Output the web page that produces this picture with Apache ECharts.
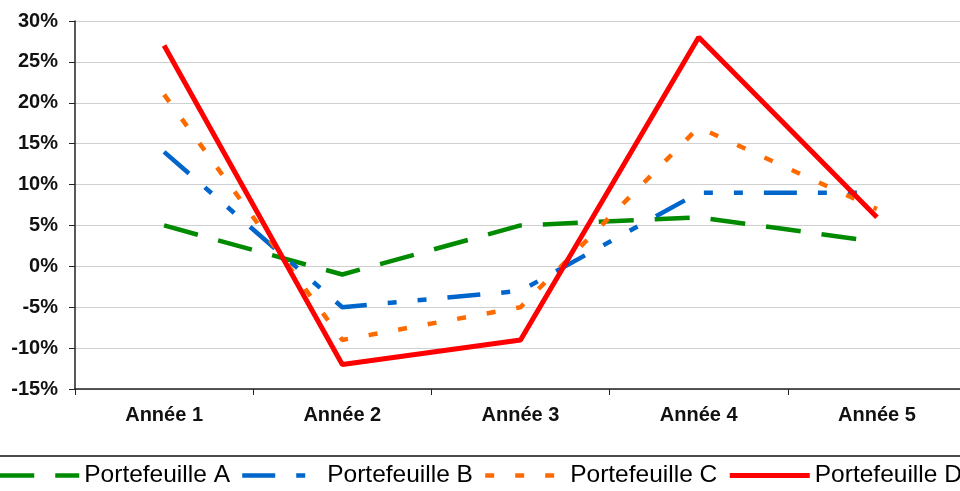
<!DOCTYPE html>
<html>
<head>
<meta charset="utf-8">
<script src="https://cdn.jsdelivr.net/npm/echarts@6/dist/echarts.min.js"></script>
<style>
  html, body { margin: 0; padding: 0; background: #fff; }
  #chart { width: 960px; height: 491px; }
</style>
</head>
<body>
<div id="chart"></div>
<script>
// années
const categories = ['Année 1', 'Année 2', 'Année 3', 'Année 4', 'Année 5'];

// rendements en %
const portefeuilleA = [5, -1, 5, 6, 3];
const portefeuilleB = [14, -5, -3, 9, 9];
const portefeuilleC = [21, -9, -5, 17, 7];
const portefeuilleD = [27, -12, -9, 28, 6];

const seriesNames = ['Portefeuille A', 'Portefeuille B', 'Portefeuille C', 'Portefeuille D'];

const font = "'Liberation Sans', Arial, sans-serif";

function lineSerie(name, data, color, width, dash) {
  return {
    name: name,
    type: 'line',
    data: data,
    symbol: 'none',
    showSymbol: false,
    animation: false,
    lineStyle: { color: color, width: width, type: dash, cap: 'butt' },
    itemStyle: { color: color }
  };
}

const chart = echarts.init(document.getElementById('chart'));

chart.setOption({
  backgroundColor: '#fff',
  animation: false,
  grid: { left: 75, top: 21, height: 368, width: 891, outerBoundsMode: 'none', containLabel: false },
  xAxis: {
    type: 'category',
    data: categories,
    boundaryGap: true,
    axisLine: { onZero: false, lineStyle: { color: '#222', width: 1.5 } },
    axisTick: { show: true, length: 6, lineStyle: { color: '#222' } },
    axisLabel: { margin: 16, color: '#111', fontWeight: 'bold', fontSize: 20, fontFamily: font },
    splitLine: { show: false }
  },
  yAxis: {
    type: 'value',
    min: -15,
    max: 30,
    interval: 5,
    axisLine: { show: true, lineStyle: { color: '#222', width: 1.5 } },
    axisTick: { show: true, length: 6, lineStyle: { color: '#222' } },
    axisLabel: {
      formatter: '{value}%',
      margin: 17,
      color: '#111',
      fontWeight: 'bold',
      fontSize: 20,
      fontFamily: font
    },
    splitLine: { lineStyle: { color: '#cfcfcf', width: 1 } }
  },
  legend: {
    data: seriesNames,
    left: -13,
    top: 456,
    width: 1200,
    orient: 'horizontal',
    padding: [7, 80, 60, 10],
    borderColor: '#111',
    borderWidth: 1.5,
    itemWidth: 80,
    itemHeight: 14,
    itemGap: 10,
    itemStyle: { opacity: 0, borderWidth: 0 },
    lineStyle: { width: 'inherit' },
    textStyle: { color: '#000', fontSize: 24.5, fontFamily: font }
  },
  series: [
    lineSerie(seriesNames[0], portefeuilleA, '#008a00', 4.5, [35, 21]),
    lineSerie(seriesNames[1], portefeuilleB, '#0066cc', 4.5, [33, 21, 9, 21, 9, 21]),
    lineSerie(seriesNames[2], portefeuilleC, '#ff6a00', 4.5, [9, 21]),
    lineSerie(seriesNames[3], portefeuilleD, '#ff0000', 5, 'solid')
  ]
});
</script>
</body>
</html>
